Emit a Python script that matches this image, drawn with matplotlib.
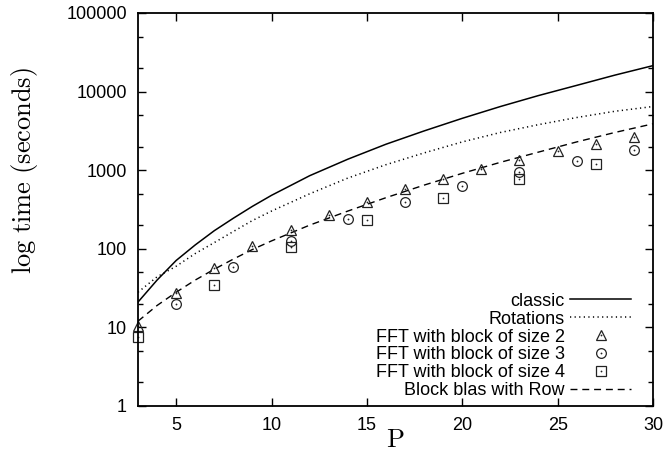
import numpy as np
import matplotlib
matplotlib.use("Agg")
import matplotlib.pyplot as plt
from matplotlib.ticker import FixedLocator, LogLocator, NullFormatter, FuncFormatter
from matplotlib.legend_handler import HandlerTuple

# ── data ──
p_curve = [3, 4, 5, 6, 7, 8, 9, 10, 12, 14, 16, 18, 20, 22, 24, 26, 28, 30]
classic = [21, 40, 71, 112, 170, 245, 347, 479, 851, 1380, 2140, 3160,
           4570, 6460, 8910, 12000, 16200, 21400]
rotations = [28, 44, 60, 87, 120, 166, 229, 302, 501, 794, 1175, 1660,
             2290, 3020, 3800, 4680, 5620, 6460]
block_blas = [12, 19, 28, 40, 55, 74, 98, 126, 200, 302, 447, 646,
              912, 1260, 1700, 2290, 3020, 3890]

p_fft2 = [3, 5, 7, 9, 11, 13, 15, 17, 19, 21, 23, 25, 27, 29]
fft2 = [10.4, 27, 57, 107, 174, 273, 399, 574, 778, 1040, 1350, 1730, 2150, 2640]
p_fft3 = [5, 8, 11, 14, 17, 20, 23, 26, 29]
fft3 = [20, 58, 126, 238, 399, 627, 955, 1300, 1800]
p_fft4 = [3, 7, 11, 15, 19, 23, 27]
fft4 = [7.5, 34.7, 104, 231, 445, 770, 1205]

x_ticks = [5, 10, 15, 20, 25, 30]

plt.rcParams["font.family"] = ["Liberation Sans", "DejaVu Sans"]
plt.rcParams["mathtext.fontset"] = "cm"

fig = plt.figure(figsize=(6.68, 4.67), dpi=100)
ax = fig.add_axes([138 / 668, 61 / 467, 515 / 668, 393 / 467])

l1, = ax.plot(p_curve, classic, color="black", lw=1.1, ls="-")
l2, = ax.plot(p_curve, rotations, color="black", lw=1.1, ls=(0, (0.8, 2.2)))
l3, = ax.plot(p_curve, block_blas, color="black", lw=1.0, ls=(0, (5, 3.5)))

mk = dict(ls="none", mfc="none", mec="#222222", mew=0.9, clip_on=False)
dot = dict(ls="none", marker="o", ms=1.3, mfc="#222222", mec="none", clip_on=False)
m2, = ax.plot(p_fft2, fft2, marker="^", ms=7.5, **mk)
d2, = ax.plot(p_fft2, fft2, **dot)
m3, = ax.plot(p_fft3, fft3, marker="o", ms=7, **mk)
d3, = ax.plot(p_fft3, fft3, **dot)
m4, = ax.plot(p_fft4, fft4, marker="s", ms=6.5, **mk)
d4, = ax.plot(p_fft4, fft4, **dot)

ax.set_xlim(3, 30)
ax.set_yscale("log")
ax.set_ylim(1, 100000)
ax.xaxis.set_major_locator(FixedLocator(x_ticks))
ax.yaxis.set_major_locator(LogLocator(base=10, numticks=10))
ax.yaxis.set_minor_locator(LogLocator(base=10, subs=(2, 5), numticks=10))
ax.yaxis.set_major_formatter(FuncFormatter(lambda v, _: f"{v:.0f}"))
ax.yaxis.set_minor_formatter(NullFormatter())
ax.tick_params(which="both", direction="in", top=True, right=True,
               labelsize=13, width=1.0)
ax.tick_params(which="major", length=6, pad=8)
ax.tick_params(which="minor", length=3.5)
for s in ax.spines.values():
    s.set_linewidth(1.3)

ax.set_xlabel(r"$\mathrm{P}$", fontsize=19)
ax.xaxis.set_label_coords(0.5, -0.055)
ax.set_ylabel(r"$\mathrm{log\ time\ (seconds)}$", fontsize=19)
ax.yaxis.set_label_coords(-0.19, 0.598)

leg = ax.legend([l1, l2, (m2, d2), (m3, d3), (m4, d4), l3],
                ["classic", "Rotations", "FFT with block of size 2",
                 "FFT with block of size 3", "FFT with block of size 4",
                 "Block blas with Row"],
                handler_map={tuple: HandlerTuple(ndivide=1)},
                loc="lower right", bbox_to_anchor=(0.965, 0.008),
                frameon=False, markerfirst=False, fontsize=13,
                handlelength=3.4, handletextpad=0.3, labelspacing=0.05,
                borderpad=0.2, borderaxespad=0)

fig.savefig("out.png", dpi=100)
